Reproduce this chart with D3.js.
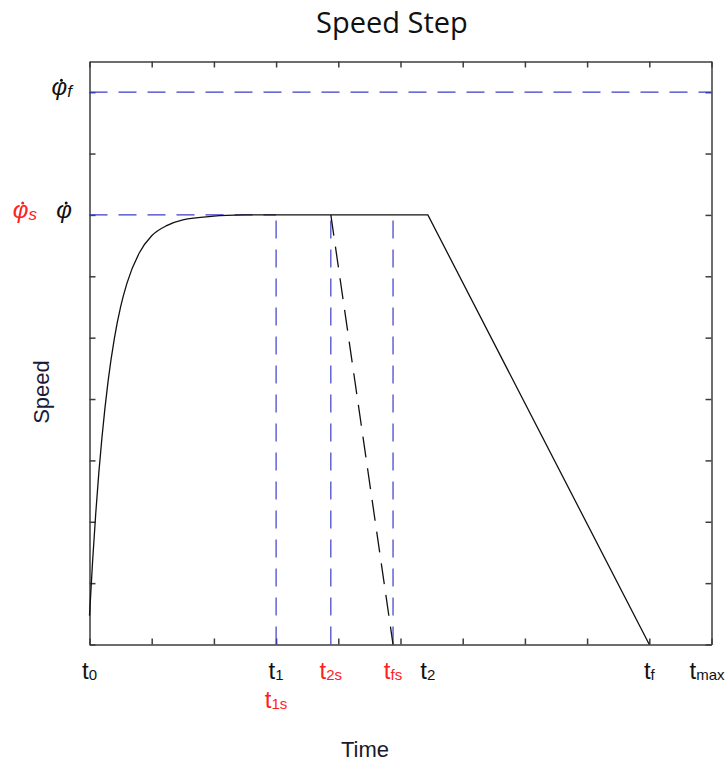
<!DOCTYPE html>
<html>
<head>
<meta charset="utf-8">
<script src="https://cdn.jsdelivr.net/npm/d3@7"></script>
<style>
  body { margin: 0; background: #fff; }
  svg { display: block; }
  text { font-family: "Liberation Sans", Arial, sans-serif; }
  .frame path, .frame line { stroke: #3c3c3c; stroke-width: 1.5; }
</style>
</head>
<body>
<script>
// start-up: exponential rise to the set speed
const riseT = [0, 0.05, 0.1, 0.15, 0.2, 0.3, 0.4, 0.5, 0.6, 0.8, 1.0, 1.25, 1.5, 2.0, 2.5];
const riseV = [0.47, 1.36, 2.13, 2.80, 3.37, 4.30, 4.99, 5.50, 5.88, 6.38, 6.66, 6.83, 6.92, 6.98, 7];

// time markers  t0, t1, t1s ...
const timeKeys = ['0', '1', '1s', '2s', 'fs', '2', 'f', 'max'];
const timeVals = [0, 3, 3, 3.88, 4.88, 5.44, 9, 10];

// speed markers  phi, phi_s, phi_f
const speedKeys = ['', 's', 'f'];
const speedVals = [7, 7, 9];

const width = 726, height = 762;

const tAt = k => timeVals[timeKeys.indexOf(k)];
const vAt = k => speedVals[speedKeys.indexOf(k)];

const x = d3.scaleLinear().domain([0, 10]).range([89.5, 711.5]);
const y = d3.scaleLinear().domain([0, 9.5]).range([644.5, 61.5]);

const svg = d3.select('body').append('svg')
    .attr('width', width).attr('height', height);

// frame with inward ticks on all four sides
const xt = d3.range(0, 11), yt = d3.range(0, 10);
const frame = svg.append('g').classed('frame', true);
frame.append('g').attr('transform', `translate(0,${y(0)})`)
    .call(d3.axisBottom(x).tickValues(xt).tickSize(-6).tickSizeOuter(0).tickFormat(''));
frame.append('g').attr('transform', `translate(0,${y.range()[1]})`)
    .call(d3.axisTop(x).tickValues(xt).tickSize(-6).tickSizeOuter(0).tickFormat(''));
frame.append('g').attr('transform', `translate(${x(0)},0)`)
    .call(d3.axisLeft(y).tickValues(yt).tickSize(-6).tickSizeOuter(0).tickFormat(''));
frame.append('g').attr('transform', `translate(${x.range()[1]},0)`)
    .call(d3.axisRight(y).tickValues(yt).tickSize(-6).tickSizeOuter(0).tickFormat(''));
frame.selectAll('.domain').attr('fill', 'none');

// guide lines
const phi = vAt(''), phiF = vAt('f');
const guides = [
    [[0, phiF], [10, phiF]],
    [[0, phi], [tAt('1'), phi]],
    [[tAt('1'), 0], [tAt('1'), phi]],
    [[tAt('2s'), 0], [tAt('2s'), phi]],
    [[tAt('fs'), 0], [tAt('fs'), phi]]
];
const line = d3.line().x(d => x(d[0])).y(d => y(d[1]));

svg.append('g').selectAll('path').data(guides).join('path')
    .attr('d', line)
    .attr('fill', 'none')
    .attr('stroke', '#3c3cc8')
    .attr('stroke-width', 1.2)
    .attr('stroke-dasharray', '18,11');

// step profile (dashed) and normal stop
svg.append('path')
    .attr('d', line([[tAt('2s'), phi], [tAt('fs'), 0]]))
    .attr('fill', 'none').attr('stroke', '#111').attr('stroke-width', 1.3)
    .attr('stroke-dasharray', '21,11');

const rise = d3.line().curve(d3.curveMonotoneX)
    .x((d, i) => x(riseT[i])).y(d => y(d));
svg.append('path')
    .attr('d', rise(riseV))
    .attr('fill', 'none').attr('stroke', '#111').attr('stroke-width', 1.3);

svg.append('path')
    .attr('d', line([[riseT[riseT.length - 1], phi], [tAt('2'), phi], [tAt('f'), 0]]))
    .attr('fill', 'none').attr('stroke', '#111').attr('stroke-width', 1.3);

// time labels, repeated positions drop to a second row
const rows = {};
const tLabels = timeKeys.map((k, i) => {
    const v = timeVals[i];
    rows[v] = (rows[v] ?? -1) + 1;
    return {k, v, row: rows[v]};
});
const tl = svg.append('g').selectAll('text').data(tLabels).join('text')
    .attr('x', d => x(d.v))
    .attr('y', d => 679 + d.row * 29)
    .attr('text-anchor', 'middle')
    .attr('fill', d => d.k.endsWith('s') ? '#ff2020' : '#111');
tl.append('tspan').attr('font-size', 24).text('t');
tl.append('tspan').attr('font-size', 15).attr('dy', 1).text(d => d.k);
// keep the last label inside the page
tl.each(function(){
    const b = this.getBBox();
    if (b.x + b.width > width - 1) d3.select(this).attr('x', +this.getAttribute('x') - (b.x + b.width - width + 1));
});

// speed labels, repeated positions move left
const cols = {};
const sLabels = speedKeys.map((k, i) => {
    const v = speedVals[i];
    cols[v] = (cols[v] ?? -1) + 1;
    return {k, v, col: cols[v], x: 72 - cols[v] * 35};
});
const sl = svg.append('g').selectAll('g').data(sLabels).join('g')
    .attr('fill', d => d.k.endsWith('s') ? '#ff2020' : '#111');
const st = sl.append('text')
    .attr('x', d => d.x)
    .attr('y', d => y(d.v) + 3)
    .attr('text-anchor', 'end')
    .attr('font-style', 'italic');
st.append('tspan').attr('font-size', 24).text('\u03c6');
st.append('tspan').attr('font-size', 17).attr('dy', 2).text(d => d.k);
// time-derivative dot over phi
st.each(function(d){
    const total = this.getComputedTextLength();
    const w = this.getSubStringLength(0, 1);
    d.dot = d.x - total + w / 2 + 2;
});
sl.append('circle')
    .attr('cx', d => d.dot)
    .attr('cy', d => y(d.v) - 12)
    .attr('r', 1.5);

// titles
svg.append('text')
    .attr('x', 392).attr('y', 33)
    .attr('text-anchor', 'middle')
    .style('font-family', '"Open Sans", sans-serif')
    .attr('font-size', 29)
    .attr('fill', '#111')
    .text('Speed Step');

svg.append('text')
    .attr('x', 365).attr('y', 757)
    .attr('text-anchor', 'middle')
    .attr('font-size', 22)
    .attr('fill', '#1a1a2a')
    .text('Time');

svg.append('text')
    .attr('transform', `translate(49,392) rotate(-90)`)
    .attr('text-anchor', 'middle')
    .attr('font-size', 22)
    .attr('fill', '#1a1a3a')
    .text('Speed');
</script>
</body>
</html>
